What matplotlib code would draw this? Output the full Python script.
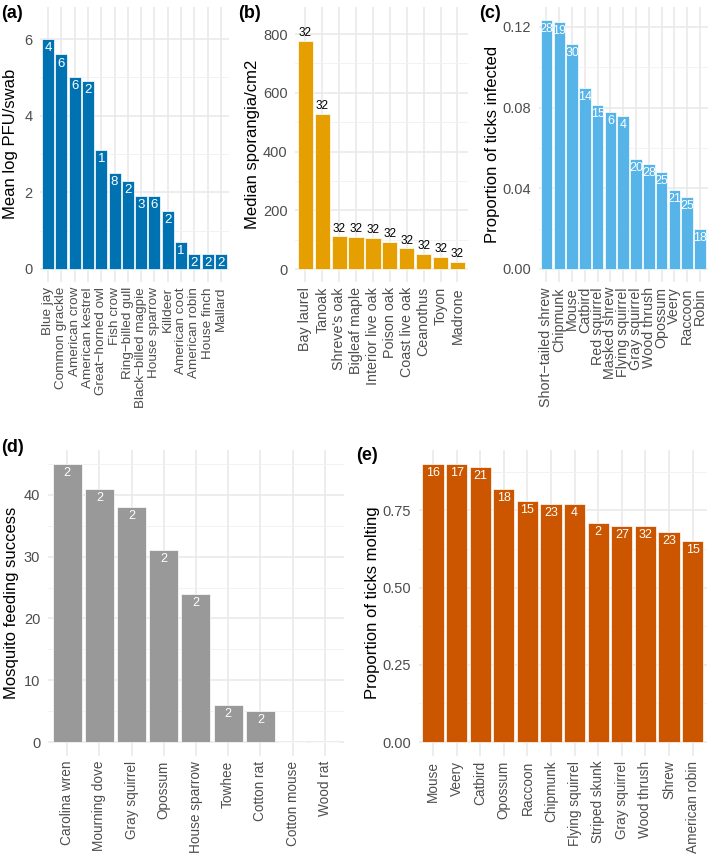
import matplotlib.pyplot as plt
from matplotlib.ticker import MultipleLocator, FormatStrFormatter

plt.rcParams['font.family'] = ['Liberation Sans', 'DejaVu Sans']

# (a) West Nile virus, birds
a_names = ['Blue jay', 'Common grackle', 'American crow', 'American kestrel',
           'Great−horned owl', 'Fish crow', 'Ring−billed gull', 'Black−billed magpie',
           'House sparrow', 'Killdeer', 'American coot', 'American robin',
           'House finch', 'Mallard']
a_values = [6.0, 5.6, 5.0, 4.9, 3.1, 2.5, 2.3, 1.9, 1.9, 1.5, 0.7, 0.4, 0.4, 0.4]
a_n = [4, 6, 6, 2, 1, 8, 2, 3, 6, 2, 1, 2, 2, 2]

# (b) sporangia on plant hosts
b_names = ['Bay laurel', 'Tanoak', "Shreve's oak", 'Bigleaf maple', 'Interior live oak',
           'Poison oak', 'Coast live oak', 'Ceanothus', 'Toyon', 'Madrone']
b_values = [777, 528, 111, 109, 107, 92, 71, 51, 41, 24]
b_n = [32] * 10

# (c) ticks infected
c_names = ['Short−tailed shrew', 'Chipmunk', 'Mouse', 'Catbird', 'Red squirrel',
           'Masked shrew', 'Flying squirrel', 'Gray squirrel', 'Wood thrush',
           'Opossum', 'Veery', 'Raccoon', 'Robin']
c_values = [0.1236, 0.1226, 0.1117, 0.0896, 0.0815, 0.0777, 0.0757,
            0.0544, 0.0522, 0.0481, 0.0390, 0.0357, 0.0200]
c_n = [28, 19, 30, 14, 15, 6, 4, 20, 28, 25, 21, 25, 18]

# (d) mosquito feeding
d_names = ['Carolina wren', 'Mourning dove', 'Gray squirrel', 'Opossum',
           'House sparrow', 'Towhee', 'Cotton rat', 'Cotton mouse', 'Wood rat']
d_values = [45, 41, 38, 31, 24, 6, 5, 0, 0]
d_n = [2, 2, 2, 2, 2, 2, 2, None, None]

# (e) ticks molting
e_names = ['Mouse', 'Veery', 'Catbird', 'Opossum', 'Raccoon', 'Chipmunk',
           'Flying squirrel', 'Striped skunk', 'Gray squirrel', 'Wood thrush',
           'Shrew', 'American robin']
e_values = [0.90, 0.90, 0.889, 0.819, 0.779, 0.769, 0.769, 0.710, 0.699, 0.700, 0.680, 0.650]
e_n = [16, 17, 21, 18, 15, 23, 4, 2, 27, 32, 23, 15]

W, H = 709, 856
fig = plt.figure(figsize=(W / 100, H / 100), dpi=100)


def panel(px, names, values, n, color, ylabel, ylim, major, minor, fmt,
          letter, letter_xy, ylabel_x, outside=False, xsize=10.3, nsize=8.5, xpad=4):
    # px = left, top, right, bottom in pixels
    l, t, r, b = px
    ax = fig.add_axes([l / W, 1 - b / H, (r - l) / W, (b - t) / H])
    x = list(range(len(names)))
    ax.bar(x, values, width=0.9, color=color, edgecolor='white', linewidth=0.5, zorder=2)
    for i, v in enumerate(values):
        if n[i] is None:
            continue
        if outside:
            ax.annotate(str(n[i]), xy=(i, v), xytext=(0, 5.5), textcoords='offset points',
                        ha='center', va='center', fontsize=nsize, color='black')
        else:
            ax.annotate(str(n[i]), xy=(i, v), xytext=(0, -6.5), textcoords='offset points',
                        ha='center', va='center', fontsize=nsize, color='white')
    ax.set_xlim(-0.6, len(names) - 0.4)
    ax.set_ylim(*ylim)
    ax.set_xticks(x)
    ax.set_xticklabels(names, rotation=90, fontsize=xsize, color='#4D4D4D')
    ax.yaxis.set_major_locator(MultipleLocator(major))
    ax.yaxis.set_minor_locator(MultipleLocator(minor))
    ax.yaxis.set_major_formatter(FormatStrFormatter(fmt))
    ax.tick_params(axis='y', labelsize=10.5, labelcolor='#4D4D4D', length=0, pad=5.5, which='both')
    ax.tick_params(axis='x', length=0, pad=xpad)
    ax.grid(which='major', color='#E8E8E8', linewidth=1.1, zorder=0)
    ax.grid(which='minor', axis='y', color='#F0F0F0', linewidth=0.6, zorder=0)
    ax.set_axisbelow(True)
    for s in ax.spines.values():
        s.set_visible(False)
    fig.text(ylabel_x / W, 1 - (t + b) / 2 / H, ylabel, rotation=90, ha='center',
             va='center', fontsize=12, color='black')
    fig.text(letter_xy[0] / W, 1 - letter_xy[1] / H, letter, fontsize=13,
             fontweight='bold', ha='left', va='center')
    return ax


panel((40, 7, 229, 281.5), a_names, a_values, a_n, '#0072B2', 'Mean log PFU/swab',
      (-0.33, 6.84), 2, 1, '%g', '(a)', (1, 13), 11, xsize=9.7, nsize=9.5)
panel((295.2, 7, 467.6, 281.5), b_names, b_values, b_n, '#E69F00', 'Median sporangia/cm2',
      (-42.5, 892), 200, 100, '%g', '(b)', (238, 13), 253, outside=True, nsize=8.5)
panel((538.8, 7, 707.6, 281.5), c_names, c_values, c_n, '#56B4E9', 'Proportion of ticks infected',
      (-0.0062, 0.1299), 0.04, 0.02, '%.2f', '(c)', (479, 13), 493, nsize=9)
panel((47.9, 450, 344, 756), d_names, d_values, d_n, '#999999', 'Mosquito feeding success',
      (-2.25, 47.25), 10, 5, '%g', '(d)', (1, 447), 12, nsize=9, xsize=9.8, xpad=3.5)
panel((418.8, 450, 706.8, 756), e_names, e_values, e_n, '#CC5500', 'Proportion of ticks molting',
      (-0.045, 0.945), 0.25, 0.125, '%.2f', '(e)', (356, 455), 372, nsize=9, xsize=9.8, xpad=3.5)

fig.savefig('out.png', dpi=100)
